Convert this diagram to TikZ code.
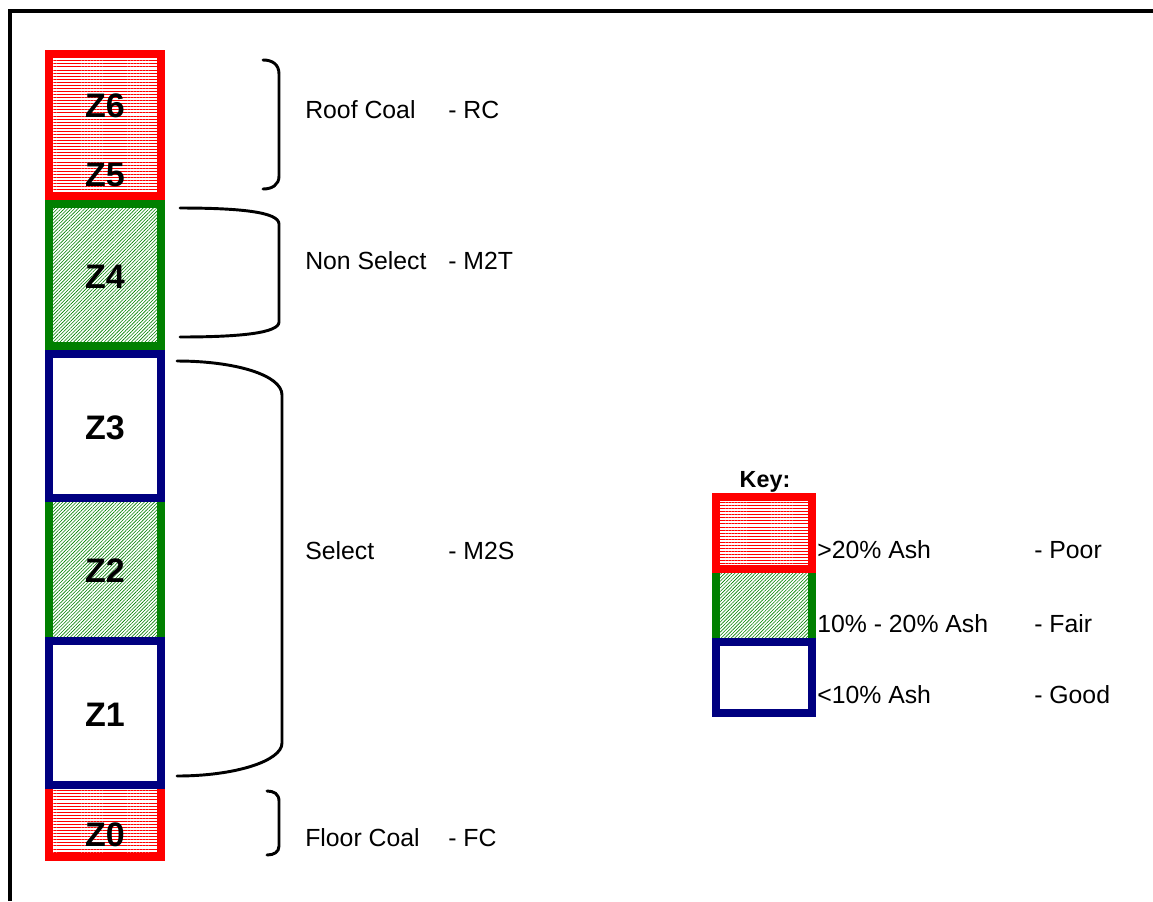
\documentclass[tikz,border=0pt]{standalone}
\usepackage{fontspec}
\setmainfont{Liberation Sans}
\usetikzlibrary{patterns.meta}
\definecolor{poorred}{RGB}{255,0,0}
\definecolor{fairgreen}{RGB}{0,128,0}
\definecolor{goodblue}{RGB}{0,0,128}
\tikzset{
  poor/.style={draw=poorred,line width=6pt,pattern={Lines[angle=0,distance=2.3pt,line width=0.55pt]},pattern color=poorred},
  fair/.style={draw=fairgreen,line width=6pt,pattern={Lines[angle=45,distance=1.8pt,line width=0.45pt]},pattern color=fairgreen},
  good/.style={draw=goodblue,line width=6pt,fill=white},
  zone/.style={font=\fontsize{25.5}{30}\selectfont\bfseries,anchor=base,inner sep=0pt},
  seamtext/.style={font=\fontsize{18.6}{22}\selectfont,anchor=base west,inner sep=0pt},
  seambrace/.style={line width=2.2pt,line cap=round}
}
\begin{document}
\begin{tikzpicture}[x=0.75pt,y=-0.75pt]
  \useasboundingbox (0,0) rectangle (1153,901);
  % Outer frame (top and left only)
  \draw[line width=3pt] (9.5,901) -- (9.5,11) -- (1153,11);
  % Seam column, bottom up
  \draw[poor] (49,785) rectangle (161,857);
  \draw[fair] (49,498) rectangle (161,641);
  \draw[good] (49,641) rectangle (161,785);
  \draw[good] (49,354) rectangle (161,498);
  \draw[fair] (49,204) rectangle (161,346);
  \draw[poor] (49,54) rectangle (161,196);
  % Zone labels
  \node[zone] (z6) at (105,117) {Z6};
  \node[zone] (z5) at (105,186) {Z5};
  \node[zone] (z4) at (105,288) {Z4};
  \node[zone] (z3) at (105,439) {Z3};
  \node[zone] (z2) at (105,582) {Z2};
  \node[zone] (z1) at (105,726) {Z1};
  \node[zone] (z0) at (105,846) {Z0};
  % Braces
  \draw[seambrace] (263,60) .. controls (272,60) and (279,64) .. (279,74) -- (279,176) .. controls (279,185) and (272,189) .. (263,189);
  \draw[seambrace] (180,208) .. controls (240,208) and (279,212) .. (279,224) -- (279,322) .. controls (279,333) and (240,337) .. (180,337);
  \draw[seambrace] (177,361) .. controls (235,361) and (282,375) .. (282,395) -- (282,743) .. controls (282,761) and (235,776) .. (177,776);
  \draw[seambrace] (267,791) .. controls (274,791) and (279,794) .. (279,801) -- (279,846) .. controls (279,852) and (274,855) .. (267,855);
  % Ply names and codes
  \node[seamtext] (rc) at (305,118) {Roof Coal};
  \node[seamtext] (rccode) at (448,118) {- RC};
  \node[seamtext] (m2t) at (305,269) {Non Select};
  \node[seamtext] (m2tcode) at (448,269) {- M2T};
  \node[seamtext] (m2s) at (305,559) {Select};
  \node[seamtext] (m2scode) at (448,559) {- M2S};
  \node[seamtext] (fc) at (305,846) {Floor Coal};
  \node[seamtext] (fccode) at (448,846) {- FC};
  % Key
  \node[font=\fontsize{17.5}{21}\selectfont\bfseries,anchor=base,inner sep=0pt] (key) at (765,487) {Key:};
  \draw[fair] (716,569) rectangle (812,642);
  \draw[poor] (716,497) rectangle (812,569);
  \draw[good] (716,642) rectangle (812,713);
  \node[seamtext] (poortext) at (817,558) {>20\% Ash};
  \node[seamtext] (fairtext) at (817,632) {10\% - 20\% Ash};
  \node[seamtext] (goodtext) at (817,703) {<10\% Ash};
  \node[seamtext] (poorcode) at (1034,558) {- Poor};
  \node[seamtext] (faircode) at (1034,632) {- Fair};
  \node[seamtext] (goodcode) at (1034,703) {- Good};
\end{tikzpicture}
\end{document}
